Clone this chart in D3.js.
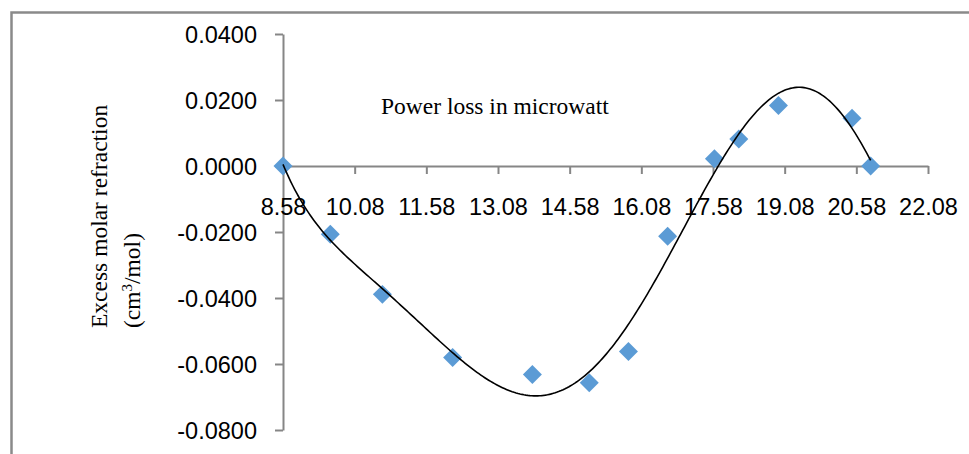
<!DOCTYPE html>
<html>
<head>
<meta charset="utf-8">
<script src="https://cdn.jsdelivr.net/npm/d3@7"></script>
<style>
  html, body { margin: 0; padding: 0; background: #fff; }
  svg { display: block; }
</style>
</head>
<body>
<svg id="chart" width="969" height="454"></svg>
<script>
// Power loss (microwatt) against excess molar refraction
const powerLoss = [8.58, 9.57, 10.66, 12.13, 13.80, 14.99, 15.81, 16.63, 17.61, 18.12, 18.95, 20.49, 20.88];
const excessRefraction = [0.0000, -0.0207, -0.0389, -0.0580, -0.0632, -0.0657, -0.0562, -0.0213, 0.0022, 0.0082, 0.0183, 0.0145, 0.0000];
const xTickValues = [8.58, 10.08, 11.58, 13.08, 14.58, 16.08, 17.58, 19.08, 20.58, 22.08];
const xTickLabels = ["8.58", "10.08", "11.58", "13.08", "14.58", "16.08", "17.58", "19.08", "20.58", "22.08"];
const yTickValues = [0.04, 0.02, 0, -0.02, -0.04, -0.06, -0.08];
const yTickLabels = ["0.0400", "0.0200", "0.0000", "-0.0200", "-0.0400", "-0.0600", "-0.0800"];
const chartTitle = "Power loss in microwatt";
const trendDegree = 6;

const svg = d3.select("#chart");
const axisGrey = "#868686";

// outer frame
svg.append("path")
  .attr("d", "M11.5,454 V12.5 H969")
  .attr("fill", "none")
  .attr("stroke", "#8a8a8a")
  .attr("stroke-width", 2.5);

const x = d3.scaleLinear().domain([8.58, 22.08]).range([283, 928]);
const y = d3.scaleLinear().domain([-0.08, 0.04]).range([430, 34]);

// least-squares polynomial trendline
function polyFit(xs, ys, degree) {
  const mx = d3.mean(xs), sx = (d3.max(xs) - d3.min(xs)) / 2;
  const ts = xs.map(v => (v - mx) / sx);
  const n = degree + 1;
  const A = Array.from({length: n}, () => new Array(n + 1).fill(0));
  ts.forEach((t, k) => {
    for (let i = 0; i < n; i++) {
      for (let j = 0; j < n; j++) A[i][j] += Math.pow(t, i + j);
      A[i][n] += ys[k] * Math.pow(t, i);
    }
  });
  for (let c = 0; c < n; c++) {
    let p = c;
    for (let r = c + 1; r < n; r++) if (Math.abs(A[r][c]) > Math.abs(A[p][c])) p = r;
    [A[c], A[p]] = [A[p], A[c]];
    for (let r = 0; r < n; r++) {
      if (r === c) continue;
      const f = A[r][c] / A[c][c];
      for (let k = c; k <= n; k++) A[r][k] -= f * A[c][k];
    }
  }
  const coef = A.map((row, i) => row[n] / row[i]);
  return v => {
    const t = (v - mx) / sx;
    return coef.reduce((s, c, i) => s + c * Math.pow(t, i), 0);
  };
}

const x0 = d3.min(powerLoss), x1 = d3.max(powerLoss);
const samples = d3.range(0, 301).map(i => x0 + (x1 - x0) * i / 300);
const line = d3.line().x(d => x(d[0])).y(d => y(d[1]));
const trend = polyFit(powerLoss, excessRefraction, trendDegree);

// y axis
const yAxis = d3.axisLeft(y)
  .tickValues(yTickValues)
  .tickFormat((d, i) => yTickLabels[i])
  .tickSize(8)
  .tickSizeOuter(0);
const gy = svg.append("g").attr("transform", `translate(${x(8.58)},0)`).call(yAxis);

// x axis crossing at zero
const xAxis = d3.axisBottom(x)
  .tickValues(xTickValues)
  .tickFormat((d, i) => xTickLabels[i])
  .tickSize(8)
  .tickSizeOuter(0);
const gx = svg.append("g").attr("transform", `translate(0,${y(0)})`).call(xAxis);

[gx, gy].forEach(g => {
  g.select(".domain").attr("stroke", axisGrey).attr("stroke-width", 2);
  g.selectAll(".tick line").attr("stroke", axisGrey).attr("stroke-width", 2);
  g.selectAll(".tick text")
    .attr("fill", "#000")
    .style("font-family", "'Liberation Sans', Arial, sans-serif")
    .style("font-size", "23.5px");
});
gx.selectAll(".tick text").attr("y", 49).attr("dy", "0");
gy.selectAll(".tick text").attr("x", -26).attr("dy", "0.35em");

// data markers
svg.append("g").selectAll("path")
  .data(powerLoss.map((v, i) => [v, excessRefraction[i]]))
  .join("path")
  .attr("d", d3.symbol(d3.symbolSquare, 180))
  .attr("transform", d => `translate(${x(d[0])},${y(d[1])}) rotate(45)`)
  .attr("fill", "#5b9bd5");

// polynomial trendline over the data range
svg.append("path")
  .attr("d", line(samples.map(v => [v, trend(v)])))
  .attr("fill", "none")
  .attr("stroke", "#000")
  .attr("stroke-width", 1.6);

// title inside plot
svg.append("text")
  .attr("x", 381)
  .attr("y", 114)
  .style("font-family", "'Liberation Serif', 'Times New Roman', serif")
  .style("font-size", "23.5px")
  .text(chartTitle);

// y axis title, two lines
const yTitle = svg.append("g")
  .style("font-family", "'Liberation Serif', 'Times New Roman', serif")
  .style("font-size", "23.5px");
yTitle.append("text")
  .attr("transform", "translate(107,328) rotate(-90)")
  .text("Excess molar refraction");
const t2 = yTitle.append("text")
  .attr("transform", "translate(140,328) rotate(-90)");
t2.append("tspan").text("(cm");
t2.append("tspan").attr("dy", -8).style("font-size", "15px").text("3");
t2.append("tspan").attr("dy", 8).text("/mol)");
</script>
</body>
</html>
